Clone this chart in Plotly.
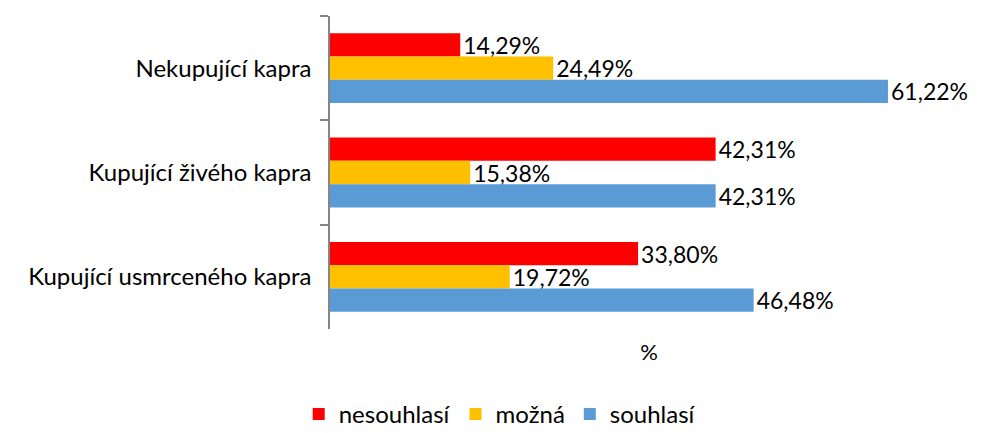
import plotly.graph_objects as go

categories = ["Nekupující kapra", "Kupující živého kapra", "Kupující usmrceného kapra"]
series_names = ["nesouhlasí", "možná", "souhlasí"]
nesouhlasi = [14.29, 42.31, 33.80]
mozna = [24.49, 15.38, 19.72]
souhlasi = [61.22, 42.31, 46.48]
colors = ["#FF0000", "#FFC000", "#5B9BD5"]

FONT = "Lato"

fig = go.Figure()
for name, vals, col in zip(series_names, [nesouhlasi, mozna, souhlasi], colors):
    fig.add_trace(go.Bar(
        y=categories, x=vals, name=name, orientation="h",
        marker=dict(color=col, line=dict(width=0)),
        texttemplate="%{x:.2f}%", textposition="outside", constraintext="none",
        textfont=dict(family=FONT, size=23, color="#000000"),
        cliponaxis=False,
    ))

# page body adds an 8px offset; figure sized to fit the 986x433 window
fig.update_layout(
    width=978, height=425,
    margin=dict(l=322, r=18, t=8, b=104, autoexpand=False),
    paper_bgcolor="white", plot_bgcolor="white",
    barmode="group", bargap=0.33, bargroupgap=0,
    separators=",.",
    font=dict(family=FONT, size=22, color="#000000"),
    showlegend=True,
    legend=dict(orientation="h", xref="paper", yref="paper",
                x=0.266, y=-0.345, xanchor="center", yanchor="bottom",
                font=dict(family=FONT, size=24), itemwidth=30,
                traceorder="normal"),
)
fig.update_xaxes(range=[0, 70], showgrid=False, zeroline=False, showline=False,
                 showticklabels=False, ticks="", automargin=False,
                 title=dict(text="%", font=dict(family=FONT, size=22), standoff=15))
fig.update_yaxes(autorange="reversed", showline=True, linecolor="#868686", linewidth=1.5,
                 ticks="outside", ticklen=8, tickcolor="#868686", tickwidth=1.5,
                 tickson="boundaries", showgrid=False, automargin=False,
                 tickfont=dict(family=FONT, size=24), ticklabelstandoff=12)

fig.write_html("out.html")
